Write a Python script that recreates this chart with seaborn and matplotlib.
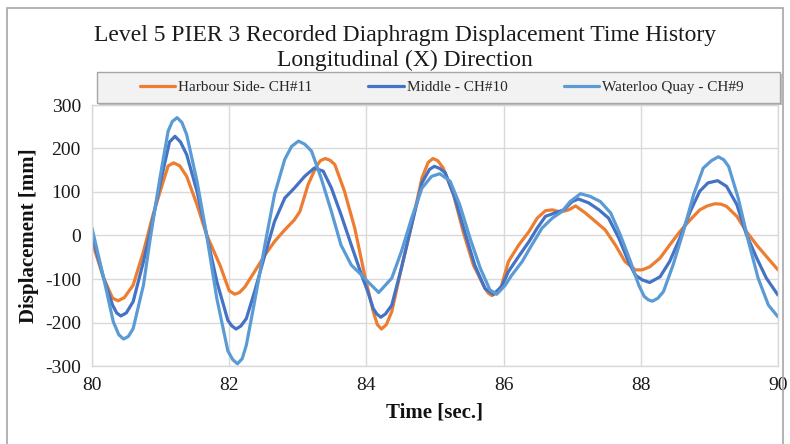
import numpy as np
import pandas as pd
import matplotlib
matplotlib.use("Agg")
import matplotlib.pyplot as plt
import seaborn as sns
from matplotlib.patches import Rectangle
from matplotlib.lines import Line2D

# ---------------- data ----------------
harbour_t = [80.0, 80.17, 80.3, 80.38, 80.47, 80.6, 80.75, 80.89, 81.04, 81.11, 81.19, 81.28,
             81.38, 81.53, 81.67, 81.87, 82.0, 82.08, 82.15, 82.23, 82.37, 82.52, 82.66, 82.81,
             82.95, 83.03, 83.15, 83.27, 83.33, 83.4, 83.47, 83.54, 83.68, 83.83, 83.98, 84.1,
             84.16, 84.22, 84.29, 84.37, 84.51, 84.66, 84.81, 84.9, 84.97, 85.04, 85.12, 85.27,
             85.41, 85.56, 85.73, 85.78, 85.83, 85.9, 85.97, 86.07, 86.22, 86.37, 86.49, 86.61,
             86.71, 86.83, 86.95, 87.05, 87.19, 87.34, 87.48, 87.63, 87.77, 87.92, 88.02, 88.13,
             88.28, 88.42, 88.57, 88.72, 88.86, 88.97, 89.08, 89.17, 89.25, 89.4, 89.54, 89.69,
             89.83, 90.0]
harbour_v = [-14, -98, -144, -150, -143, -114, -37, 48, 125, 160, 167, 160,
             136, 71, 2, -70, -127, -135, -131, -118, -83, -45, -14, 13,
             36, 55, 117, 159, 172, 177, 173, 163, 102, 17, -95, -175,
             -205, -215, -205, -175, -75, 25, 132, 168, 177, 172, 155, 94,
             9, -68, -122, -133, -138, -132, -115, -60, -22, 9, 40, 57,
             59, 54, 59, 68, 52, 32, 13, -22, -60, -79, -79, -72,
             -52, -22, 9, 36, 59, 68, 73, 72, 67, 44, 9, -22,
             -48, -79]

middle_t = [80.0, 80.17, 80.3, 80.36, 80.42, 80.5, 80.6, 80.75, 80.85, 80.99, 81.13, 81.21,
            81.29, 81.38, 81.53, 81.67, 81.82, 81.98, 82.04, 82.1, 82.17, 82.25, 82.37, 82.52,
            82.66, 82.81, 82.95, 83.1, 83.24, 83.37, 83.49, 83.63, 83.78, 83.93, 84.02, 84.1,
            84.15, 84.21, 84.28, 84.37, 84.51, 84.66, 84.81, 84.92, 84.99, 85.07, 85.15, 85.29,
            85.44, 85.58, 85.73, 85.85, 85.97, 86.07, 86.22, 86.37, 86.49, 86.61, 86.75, 86.88,
            87.0, 87.09, 87.24, 87.39, 87.53, 87.68, 87.82, 87.92, 88.02, 88.13, 88.28, 88.42,
            88.57, 88.72, 88.86, 88.98, 89.12, 89.25, 89.4, 89.54, 89.69, 89.83, 90.0]
middle_v = [0, -98, -160, -178, -185, -178, -152, -60, 9, 117, 215, 228,
            215, 186, 102, 2, -106, -195, -208, -215, -208, -191, -129, -45,
            32, 86, 109, 136, 155, 148, 109, 48, -22, -91, -129, -168,
            -180, -188, -180, -160, -75, 25, 121, 152, 159, 154, 144, 86,
            5, -68, -122, -135, -118, -83, -48, -14, 17, 44, 52, 59,
            78, 84, 75, 59, 40, -6, -60, -91, -102, -108, -95, -60,
            -6, 55, 102, 121, 126, 113, 71, 2, -52, -98, -137]

waterloo_t = [80.0, 80.17, 80.31, 80.39, 80.46, 80.53, 80.6, 80.75, 80.85, 80.99, 81.11, 81.17,
              81.24, 81.31, 81.38, 81.53, 81.67, 81.82, 81.98, 82.05, 82.12, 82.19, 82.25, 82.37,
              82.52, 82.66, 82.81, 82.91, 83.01, 83.1, 83.2, 83.34, 83.49, 83.63, 83.78, 83.93,
              84.02, 84.18, 84.37, 84.51, 84.66, 84.81, 84.95, 85.07, 85.22, 85.36, 85.51, 85.66,
              85.8, 85.9, 86.02, 86.12, 86.27, 86.41, 86.56, 86.71, 86.85, 86.97, 87.12, 87.26,
              87.41, 87.56, 87.7, 87.85, 87.97, 88.05, 88.11, 88.17, 88.25, 88.33, 88.47, 88.62,
              88.77, 88.91, 89.03, 89.13, 89.21, 89.28, 89.42, 89.57, 89.71, 89.86, 90.0]
waterloo_v = [17, -98, -198, -228, -238, -232, -214, -114, -6, 132, 240, 262,
              271, 260, 232, 125, 2, -145, -265, -285, -295, -283, -252, -152,
              -22, 94, 175, 205, 217, 210, 194, 132, 55, -22, -68, -91,
              -106, -131, -98, -37, 40, 109, 136, 142, 125, 71, -6, -75,
              -125, -135, -115, -91, -60, -22, 17, 40, 55, 78, 96, 90,
              78, 52, 2, -60, -114, -140, -148, -151, -144, -129, -68, 9,
              94, 155, 172, 181, 174, 159, 86, -14, -98, -160, -187]

series_names = ["Harbour Side- CH#11", "Middle - CH#10", "Waterloo Quay - CH#9"]
series_colors = ["#ED7D31", "#4472C4", "#5B9BD5"]
x_ticks = [80, 82, 84, 86, 88, 90]
y_ticks = [-300, -200, -100, 0, 100, 200, 300]

df = pd.concat([
    pd.DataFrame({"Time": harbour_t, "Disp": harbour_v, "Series": series_names[0]}),
    pd.DataFrame({"Time": middle_t, "Disp": middle_v, "Series": series_names[1]}),
    pd.DataFrame({"Time": waterloo_t, "Disp": waterloo_v, "Series": series_names[2]}),
], ignore_index=True)

# ---------------- style ----------------
sns.set_theme(style="whitegrid")
plt.rcParams["font.family"] = ["Liberation Serif", "DejaVu Serif"]

fig = plt.figure(figsize=(7.9, 4.44), dpi=100)
ax = fig.add_axes([92 / 790, 1 - 366 / 444, (778 - 92) / 790, (366 - 105) / 444])

sns.lineplot(data=df, x="Time", y="Disp", hue="Series", hue_order=series_names,
             palette=series_colors, linewidth=2.3, ax=ax, legend=False,
             estimator=None, solid_joinstyle="round", solid_capstyle="round")

ax.set_xlim(80, 90)
ax.set_ylim(-300, 300)
ax.set_xticks(x_ticks)
ax.set_yticks(y_ticks)
ax.set_xticklabels([str(t) for t in x_ticks], fontsize=14)
ax.set_yticklabels([str(t) for t in y_ticks], fontsize=14)
ax.tick_params(axis="both", length=0, pad=8, colors="#1a1a1a")
ax.grid(True, color="#D9D9D9", linewidth=1)
for s in ax.spines.values():
    s.set_color("#D9D9D9")
    s.set_linewidth(1)
ax.set_facecolor("white")

ax.set_xlabel("Time [sec.]", fontsize=15, fontweight="bold", labelpad=6, color="#111111")
ax.set_ylabel("Displacement [mm]", fontsize=15, fontweight="bold", labelpad=4, color="#111111")

fig.text(405 / 790, 1 - 35 / 444, "Level 5 PIER 3 Recorded Diaphragm Displacement Time History",
         ha="center", va="center", fontsize=17, color="#1a1a1a")
fig.text(405 / 790, 1 - 60 / 444, "Longitudinal (X) Direction",
         ha="center", va="center", fontsize=17, color="#1a1a1a")

# legend box (frame) and entries
lx0, lx1, ly0, ly1 = 97, 780, 72, 103
fig.patches.append(Rectangle((lx0 / 790 + 0.002, 1 - ly1 / 444 - 0.004), (lx1 - lx0) / 790,
                             (ly1 - ly0) / 444, transform=fig.transFigure,
                             facecolor="#BFBFBF", edgecolor="none", zorder=2))
fig.patches.append(Rectangle((lx0 / 790, 1 - ly1 / 444), (lx1 - lx0) / 790, (ly1 - ly0) / 444,
                             transform=fig.transFigure, facecolor="#F2F2F2",
                             edgecolor="#A6A6A6", linewidth=1, zorder=3))
handles = [Line2D([0], [0], color=c, lw=2.3) for c in series_colors]
leg = fig.legend(handles, series_names, loc="center",
                 bbox_to_anchor=((lx0 + lx1) / 2 / 790 + 0.004, 1 - (ly0 + ly1) / 2 / 444),
                 ncol=3, fontsize=11, frameon=False, handlelength=2.3,
                 handletextpad=0.2, columnspacing=3.7, borderaxespad=0)
leg.set_zorder(4)

# outer border
fig.patches.append(Rectangle((7 / 790, -0.02), (783 - 7) / 790, 1 - 8 / 444 + 0.02,
                             transform=fig.transFigure, fill=False,
                             edgecolor="#A6A6A6", linewidth=1.2))

fig.savefig("out.png", dpi=100, facecolor="white")
